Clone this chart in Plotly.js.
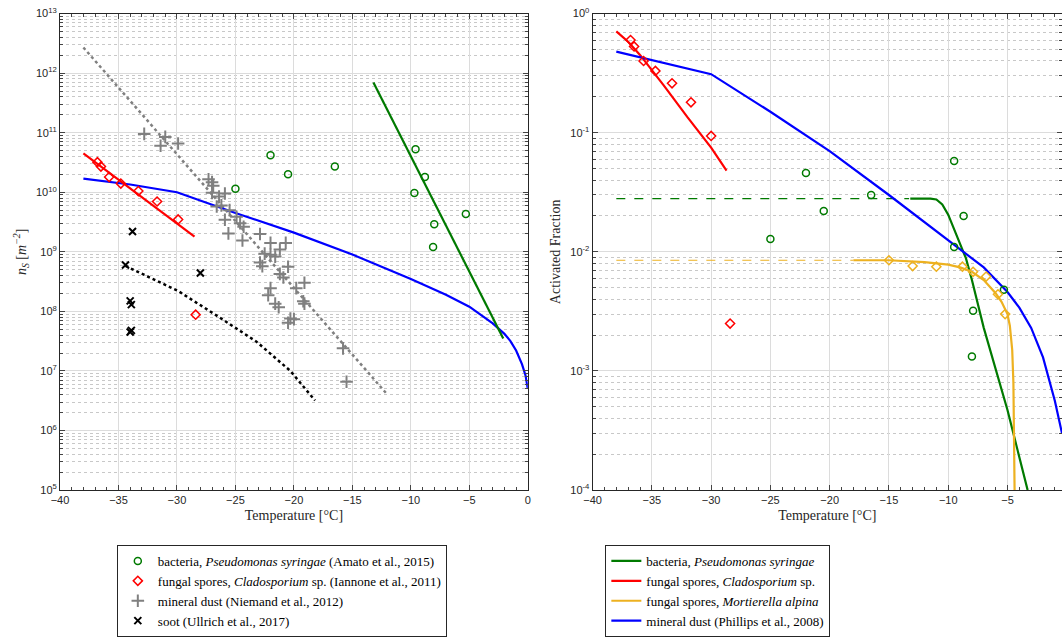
<!DOCTYPE html>
<html><head><meta charset="utf-8">
<script src="https://cdn.plot.ly/plotly-3.0.1.min.js"></script>
<style>body{margin:0}#c{width:1062px;height:637px}</style></head>
<body><div id="c"></div>
<script>
// ---- Left panel (n_S) ----
const dustLineT = [-38,-34,-30,-25,-20,-15,-10,-7,-5,-4,-3,-2,-1.5,-1,-0.5,-0.2,0];
const dustLineN = [1.7e10,1.35e10,1.0e10,4.5e9,2.1e9,9e8,3.5e8,1.9e8,1.2e8,8.8e7,6.3e7,4.2e7,3.2e7,2.2e7,1.3e7,8.5e6,5e6];
const bactLineT = [-13.2,-2.1];
const bactLineN = [7e11,3.5e7];
const fungLineT = [-38,-28.5];
const fungLineN = [4.5e10,1.8e9];
const niemLineT = [-38,-12];
const niemLineN = [2.7e12,4e6];
const sootLineT = [-34.4,-29.9,-26.6,-23.2,-20.3,-18.2];
const sootLineN = [5.8e8,2.2e8,8.5e7,3.1e7,1e7,3.2e6];
const bactPtT = [-25,-22,-20.5,-16.5,-9.6,-9.7,-8.8,-8,-8.1,-5.3];
const bactPtN = [1.15e10,4.2e10,2e10,2.7e10,5.3e10,9.7e9,1.8e10,2.9e9,1.2e9,4.3e9];
const fungPtT = [-36.8,-36.5,-35.8,-34.8,-33.3,-31.7,-29.9,-28.4];
const fungPtN = [3.2e10,2.7e10,1.8e10,1.4e10,1.05e10,7e9,3.5e9,8.8e7];
const sootPtT = [-33.8,-34.4,-28,-34,-33.9,-33.9,-34];
const sootPtN = [2.2e9,6e8,4.4e8,1.5e8,1.3e8,4.8e7,4.5e7];
const dustPtT = [-32.8,-31.4,-31.0,-29.9,-27.3,-27.0,-26.9,-27.0,-26.4,-25.9,-26.6,-26.2,-25.5,-25.9,-24.9,-24.6,-24.3,-25.6,-24.4,-22.9,-22.0,-20.7,-21.2,-22.5,-22.0,-21.6,-22.9,-22.7,-20.5,-21.2,-20.9,-22.0,-22.2,-19.1,-19.8,-21.6,-21.3,-19.2,-19.1,-20.3,-20.0,-20.5,-15.8,-15.5];
const dustPtLog = [10.98,10.78,10.93,10.82,10.22,10.17,10.11,9.99,9.93,9.98,9.76,9.78,9.70,9.54,9.59,9.48,9.42,9.31,9.19,9.30,9.15,9.15,9.04,8.97,8.95,8.92,8.82,8.76,8.75,8.63,8.57,8.39,8.27,8.48,8.39,8.13,8.07,8.17,8.13,7.88,7.87,7.81,7.38,6.82];
// ---- Right panel (activated fraction) ----
const dustAfT = [-38,-30,-25,-20,-15,-10,-7,-5,-4,-3,-2,-1,-0.4];
const dustAf = [0.48,0.31,0.15,0.07,0.03,0.0126,0.0074,0.0046,0.0034,0.0023,0.0013,5.6e-4,3e-4];
const fungAfT = [-38,-37,-36,-34,-32,-30,-28.7];
const fungAf = [0.71,0.58,0.45,0.25,0.135,0.075,0.048];
const bactDashT = [-38,-13.3];
const bactDash = [0.028,0.028];
const bactAfT = [-13.2,-11.5,-11,-10.5,-10,-9.5,-9,-8.5,-8,-7,-5,-3.3];
const bactAf = [0.028,0.028,0.0275,0.025,0.0205,0.0155,0.0118,0.0088,0.0058,0.0023,4.7e-4,1e-4];
const mortDashT = [-38,-18];
const mortDash = [0.0085,0.0085];
const mortAfT = [-18,-15,-12,-10,-9,-8,-7,-6,-5.5,-5,-4.8,-4.6,-4.5,-4.45,-4.4];
const mortAf = [0.0085,0.0085,0.0082,0.0078,0.0074,0.0068,0.0058,0.0045,0.0038,0.003,0.0024,0.0015,0.0008,0.0004,1e-4];
const bactAfPtT = [-25,-22,-20.5,-16.5,-9.5,-8.7,-9.5,-7.9,-8,-5.3];
const bactAfPt = [0.0128,0.046,0.022,0.03,0.058,0.02,0.011,0.0032,0.00132,0.0048];
const fungAfPtT = [-36.8,-36.5,-35.7,-34.7,-33.3,-31.7,-30,-28.4];
const fungAfPt = [0.6,0.53,0.4,0.33,0.26,0.18,0.094,0.0025];
const mortAfPtT = [-15,-13,-11,-8.8,-7.9,-6.8,-5.8,-5.2];
const mortAfPt = [0.0085,0.0076,0.0075,0.0075,0.0068,0.0062,0.0044,0.003];

const G='#007a00', R='#ff0000', B='#0000ff', O='#EDB120', GR='#808080';
const L = (x,y,c,extra)=>Object.assign({x,y,mode:'lines',line:{color:c,width:2.2},showlegend:false,hoverinfo:'skip'},extra||{});
const M = (x,y,c,sym,name,extra)=>Object.assign({x,y,mode:'markers',name,marker:{color:c,symbol:sym,size:7,line:{color:c,width:1.5}}},extra||{});

const traces = [
 L(niemLineT,niemLineN,GR,{line:{color:GR,width:2.5,dash:'dot'}}),
 L(sootLineT,sootLineN,'#000',{line:{color:'#000',width:2.5,dash:'dot'}}),
 L(dustLineT,dustLineN,B),
 L(bactLineT,bactLineN,G),
 L(fungLineT,fungLineN,R),
 M(bactPtT,bactPtN,G,'circle-open','bacteria, <i>Pseudomonas syringae</i> (Amato et al., 2015)',{legend:'legend'}),
 M(fungPtT,fungPtN,R,'diamond-open','fungal spores, <i>Cladosporium</i> sp. (Iannone et al., 2011)',{legend:'legend'}),
 M(dustPtT,dustPtLog.map(v=>Math.pow(10,v)),GR,'cross-thin-open','mineral dust (Niemand et al., 2012)',{legend:'legend',marker:{color:GR,symbol:'cross-thin-open',size:9,line:{color:GR,width:2}}}),
 M(sootPtT,sootPtN,'#000','x-thin-open','soot (Ullrich et al., 2017)',{legend:'legend',marker:{color:'#000',symbol:'x-thin-open',size:7,line:{color:'#000',width:2}}}),
 // right
 L(bactDashT,bactDash,G,{xaxis:'x2',yaxis:'y2',line:{color:G,width:1.2,dash:'dash'}}),
 L(mortDashT,mortDash,O,{xaxis:'x2',yaxis:'y2',line:{color:O,width:1.2,dash:'dash'}}),
 L(bactAfT,bactAf,G,{xaxis:'x2',yaxis:'y2',showlegend:true,legend:'legend2',name:'bacteria, <i>Pseudomonas syringae</i>'}),
 L(fungAfT,fungAf,R,{xaxis:'x2',yaxis:'y2',showlegend:true,legend:'legend2',name:'fungal spores, <i>Cladosporium</i> sp.'}),
 L(mortAfT,mortAf,O,{xaxis:'x2',yaxis:'y2',showlegend:true,legend:'legend2',name:'fungal spores, <i>Mortierella alpina</i>'}),
 L(dustAfT,dustAf,B,{xaxis:'x2',yaxis:'y2',showlegend:true,legend:'legend2',name:'mineral dust (Phillips et al., 2008)'}),
 M(bactAfPtT,bactAfPt,G,'circle-open','',{xaxis:'x2',yaxis:'y2',showlegend:false}),
 M(fungAfPtT,fungAfPt,R,'diamond-open','',{xaxis:'x2',yaxis:'y2',showlegend:false}),
 M(mortAfPtT,mortAfPt,O,'diamond-open','',{xaxis:'x2',yaxis:'y2',showlegend:false}),
];

const tickF = {family:'Liberation Sans, Arial', size:11, color:'#262626'};
const titleF = {family:'Liberation Serif, Times New Roman', size:14, color:'#262626'};
const xMinor = []; for(let t=-39;t<0;t++) if(t%5) xMinor.push(t);
const xax = (dom,rng,anchor)=>({domain:dom,range:rng,anchor,tickvals:[-40,-35,-30,-25,-20,-15,-10,-5,0],ticks:'inside',ticklen:5,
  showline:true,mirror:'ticks',linecolor:'#262626',linewidth:1,gridcolor:'#dcdcdc',zeroline:false,tickfont:tickF,automargin:false,
  minor:{tickvals:xMinor,ticks:'inside',ticklen:3,showgrid:false},title:{text:'Temperature [°C]',font:titleF,standoff:4}});
const sup = n=>'10<sup>'+n+'</sup>';
const yMinor = lo=>{const a=[];for(let e=lo;e<lo+9;e++)for(let m=2;m<10;m++)a.push(m*Math.pow(10,e));return a;};
const yax = (rng,vals,anchor,title)=>({type:'log',range:rng,anchor,domain:[0.207,0.978],tickvals:vals.map(v=>Math.pow(10,v)),ticktext:vals.map(sup),
  ticks:'inside',ticklen:5,showline:true,mirror:'ticks',linecolor:'#262626',gridcolor:'#dcdcdc',tickfont:tickF,automargin:false,
  minor:{tickvals:yMinor(rng[0]),ticks:'inside',ticklen:3,showgrid:true,gridcolor:'#c8c8c8',griddash:'dot'},title:{text:title,font:titleF,standoff:6}});

const layout = {
 width:1062,height:637,margin:{l:0,r:0,t:0,b:0},paper_bgcolor:'#fff',plot_bgcolor:'#fff',
 xaxis:xax([0.0565,0.497],[-40,0],'y'),
 yaxis:yax([5,13],[5,6,7,8,9,10,11,12,13],'x','<i>n<sub>S</sub></i> [<i>m<sup>−2</sup></i>]'),
 xaxis2:xax([0.558,1.0],[-40,-0.4],'y2'),
 yaxis2:yax([-4,0],[-4,-3,-2,-1,0],'x2','Activated Fraction'),
 legend:{x:0.110,y:0.118,xanchor:'left',yanchor:'top',bordercolor:'#262626',borderwidth:1,bgcolor:'#fff',
   font:{family:'Liberation Serif, Times New Roman',size:13,color:'#000'},tracegroupgap:0,itemwidth:30},
 legend2:{x:0.570,y:0.118,xanchor:'left',yanchor:'top',bordercolor:'#262626',borderwidth:1,bgcolor:'#fff',
   font:{family:'Liberation Serif, Times New Roman',size:13,color:'#000'},tracegroupgap:0,itemwidth:30},
 showlegend:true
};
Plotly.newPlot('c',traces,layout,{staticPlot:true});
</script></body></html>
